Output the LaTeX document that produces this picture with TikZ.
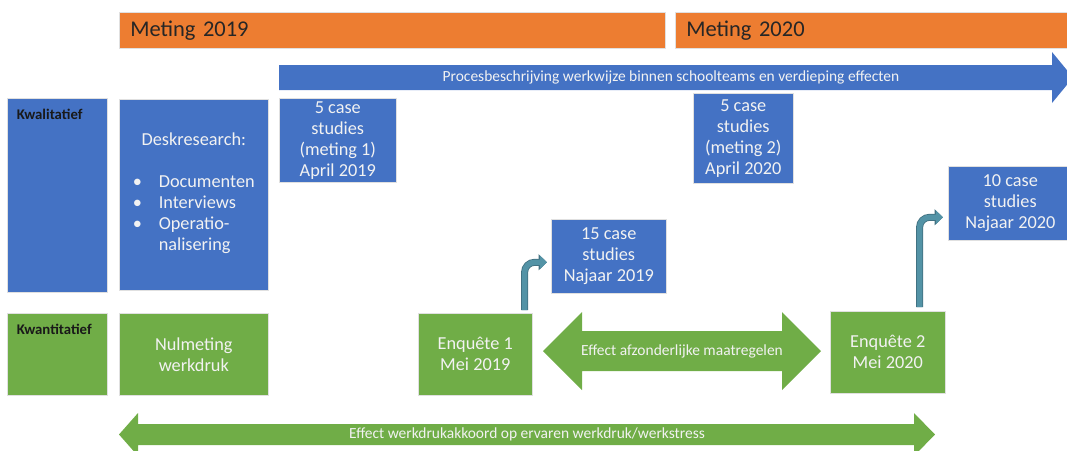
\documentclass[tikz,border=0pt]{standalone}
\usepackage{fontspec}
\setmainfont{Carlito}
\usepackage{tikz}
\usetikzlibrary{arrows.meta}

\definecolor{metingoranje}{HTML}{ED7D31}
\definecolor{kwalblauw}{HTML}{4472C4}
\definecolor{kwangroen}{HTML}{70AD47}
\definecolor{pijlteal}{HTML}{5393A6}
\definecolor{pijlrand}{HTML}{3F6E7E}
\definecolor{bloktekst}{HTML}{F2F2F2}

\tikzset{
  blok/.style={draw=black!12, line width=0.4pt, inner sep=0pt, anchor=north west,
    align=center, text=bloktekst, font=\fontsize{13}{15}\selectfont},
  blauwblok/.style={blok, fill=kwalblauw},
  groenblok/.style={blok, fill=kwangroen},
  metingbalk/.style={draw=black!12, fill=metingoranje, anchor=north west, inner ysep=0pt,
    inner xsep=2.75mm, minimum height=9mm, text width=131mm, align=left,
    text=black!85, font=\fontsize{16}{19}\selectfont},
  zijlabel/.style={anchor=north west, inner sep=0pt, text=black!90, font=\fontsize{10.5}{12}\selectfont\bfseries},
  pijltekst/.style={inner sep=0pt, text=bloktekst, font=\fontsize{11}{13}\selectfont},
  knikpijl/.style={rounded corners=2.5mm, line width=1.35mm, draw=pijlteal,
    -{Triangle[length=1.8mm,width=3.3mm]},
    preaction={draw=pijlrand, line width=1.75mm, -{Triangle[length=2.1mm,width=3.9mm]}}}
}

\begin{document}
\begin{tikzpicture}[x=0.025cm, y=-0.025cm]

\useasboundingbox (0,0) rectangle (1067,450);

% meting balken
\node[metingbalk] (m2019) at (119,12) {Meting 2019};
\node[metingbalk, text width=93.75mm] (m2020) at (675,12) {Meting 2020};

% procesbeschrijving pijl
\fill[kwalblauw] (279,65) -- (1052,65) -- (1052,52) -- (1073,77.5) -- (1052,103)
    -- (1052,90) -- (279,90) -- cycle;
\node[pijltekst] (proces) at (671,77.5) {Procesbeschrijving werkwijze binnen schoolteams en verdieping effecten};

% kwalitatief
\node[blauwblok, minimum width=25mm, minimum height=48.5mm] (kwal) at (7,98) {};
\node[zijlabel] (kwaltxt) at ([shift={(2.4mm,-2.6mm)}]kwal.north west) {Kwalitatief};

\node[blauwblok, minimum width=37.25mm, minimum height=47.75mm] (desk) at (119,99)
    {Deskresearch:\\[15pt]
     \begin{tabular}[t]{@{}l@{\hspace{4.2mm}}l@{}}
       • & Documenten\\
       • & Interviews\\
       • & Operatio-\\
         & nalisering
     \end{tabular}};

\node[blauwblok, minimum width=29.25mm, minimum height=21mm] (cs1) at (279,98)
    {5 case\\studies\\(meting 1)\\April 2019};
\node[blauwblok, minimum width=25mm, minimum height=22.5mm] (cs2) at (693,93)
    {5 case\\studies\\(meting 2)\\April 2020};
\node[blauwblok, minimum width=28.75mm, minimum height=18.5mm] (cs15) at (551,219)
    {15 case\\studies\\Najaar 2019};
\node[blauwblok, minimum width=31mm, minimum height=18.5mm] (cs10) at (948,166)
    {10 case\\studies\\Najaar 2020};

% kwantitatief
\node[groenblok, minimum width=25mm, minimum height=20.5mm] (kwan) at (7,313) {};
\node[zijlabel] (kwantxt) at ([shift={(2.4mm,-2.6mm)}]kwan.north west) {Kwantitatief};

\node[groenblok, minimum width=37.25mm, minimum height=20.5mm] (nul) at (119,313)
    {Nulmeting\\werkdruk};
\node[groenblok, minimum width=28.5mm, minimum height=20.5mm] (enq1) at (418,313)
    {Enquête 1\\Mei 2019};
\node[groenblok, minimum width=28.75mm, minimum height=20.5mm] (enq2) at (830,311)
    {Enquête 2\\Mei 2020};

% effect pijlen
\fill[kwangroen] (543,351) -- (582,312) -- (582,331) -- (782,331) -- (782,312) -- (821,351)
    -- (782,390) -- (782,371) -- (582,371) -- (582,390) -- cycle;
\node[pijltekst] (afzonderlijk) at (682,351) {Effect afzonderlijke maatregelen};

\fill[kwangroen] (119,434.5) -- (138,413) -- (138,424) -- (914,424) -- (914,413) -- (935,434.5)
    -- (914,456) -- (914,445) -- (138,445) -- (138,456) -- cycle;
\node[pijltekst] (werkdruk) at (527,434.5) {Effect werkdrukakkoord op ervaren werkdruk/werkstress};

% knikpijlen
\draw[knikpijl] ([shift={(-2mm,0.75mm)}]enq1.north east) |- ([shift={(-1mm,-1.5mm)}]cs15.west);
\draw[knikpijl] ([shift={(-6.5mm,1mm)}]enq2.north east) |- ([shift={(-1.25mm,-3.5mm)}]cs10.west);

\end{tikzpicture}
\end{document}
